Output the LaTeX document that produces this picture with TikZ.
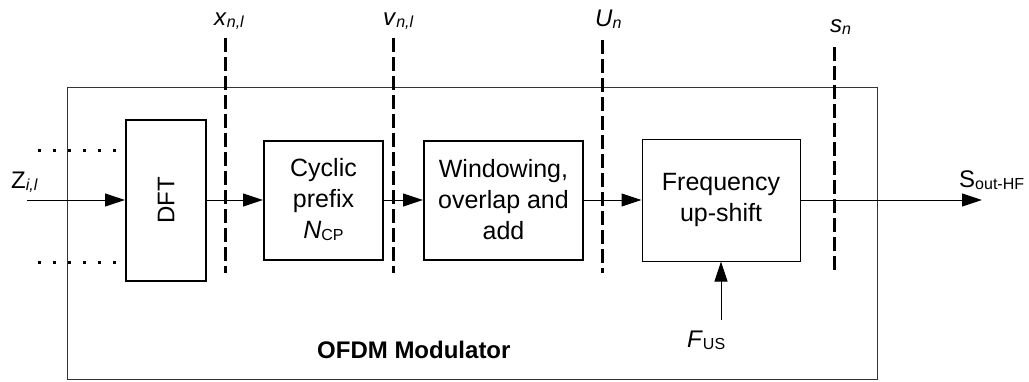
\documentclass[tikz,border=0pt]{standalone}
\usepackage{fontspec}
\setmainfont{Liberation Sans}
\usetikzlibrary{arrows.meta}
\newcommand{\lsub}[1]{\raisebox{-2pt}{\fontsize{16}{16}\selectfont #1}}
\begin{document}
\begin{tikzpicture}[x=1pt,y=-1pt,
  thickbox/.style={draw,line width=2pt,align=center,inner sep=0pt,font=\fontsize{25}{31}\selectfont},
  thinbox/.style={draw,line width=1pt,align=center,inner sep=0pt,font=\fontsize{25}{31}\selectfont},
  sig/.style={-{Triangle[length=20pt,width=13pt]},line width=1pt},
  cut/.style={line width=3pt,dash pattern=on 14pt off 5pt},
  dotrow/.style={line width=3pt,dash pattern=on 3pt off 12pt},
  lab/.style={anchor=base west,inner sep=0pt,font=\fontsize{24}{24}\selectfont}]
\useasboundingbox (0,0) rectangle (1029,381);
% outer module
\draw[line width=1pt,black!80] (67,87) rectangle (877,379);
% blocks
\node[thickbox,minimum width=80pt,minimum height=161pt] (dft) at (166,200)
  {\rotatebox{90}{\fontsize{24}{24}\selectfont DFT}};
\node[thickbox,minimum width=119pt,minimum height=119pt] (cp) at (323.5,200)
  {Cyclic\\prefix\\\textit{N}\lsub{CP}};
\node[thickbox,minimum width=159pt,minimum height=119pt] (win) at (503.5,200)
  {Windowing,\\overlap and\\add};
\node[thinbox,minimum width=158pt,minimum height=122pt] (fq) at (721,200)
  {Frequency\\up-shift};
% dotted rows
\coordinate (d1a) at (38,150); \coordinate (d1b) at (118,150);
\coordinate (d2a) at (38,262); \coordinate (d2b) at (118,262);
\draw[dotrow] (d1a) -- (d1b);
\draw[dotrow] (d2a) -- (d2b);
% signal arrows
\coordinate (zin) at (27,200);
\coordinate (sout) at (982,200);
\coordinate (fus) at (721,320);
\draw[sig] (zin) -- (dft.west);
\draw[sig] (dft.east) -- (cp.west);
\draw[sig] (cp.east) -- (win.west);
\draw[sig] (win.east) -- (fq.west);
\draw[sig] (fq.east) -- (sout);
\draw[sig] (fus) -- (fq.south);
% cut lines
\coordinate (c1a) at (225,38); \coordinate (c1b) at (225,273);
\coordinate (c2a) at (393,38); \coordinate (c2b) at (393,273);
\coordinate (c3a) at (602,40); \coordinate (c3b) at (602,273);
\coordinate (c4a) at (834,47); \coordinate (c4b) at (834,272);
\draw[cut] (c1a) -- (c1b);
\draw[cut] (c2a) -- (c2b);
\draw[cut] (c3a) -- (c3b);
\draw[cut] (c4a) -- (c4b);
% labels
\node[lab] (lx) at (214,25) {\textit{x}\lsub{\textit{n,l}}};
\node[lab] (lv) at (383,25) {\textit{v}\lsub{\textit{n,l}}};
\node[lab] (lu) at (595,26) {\textit{U}\lsub{\textit{n}}};
\node[lab] (ls) at (830,32) {\textit{s}\lsub{\textit{n}}};
\node[lab] (lz) at (11,188) {Z\lsub{\textit{i,l}}};
\node[lab] (lo) at (959,187) {S\lsub{out-HF}};
\node[lab] (lf) at (687,347) {\textit{F}\lsub{US}};
\node[lab,font=\fontsize{24}{24}\bfseries\selectfont] (lm) at (317,358) {OFDM Modulator};
\end{tikzpicture}
\end{document}
